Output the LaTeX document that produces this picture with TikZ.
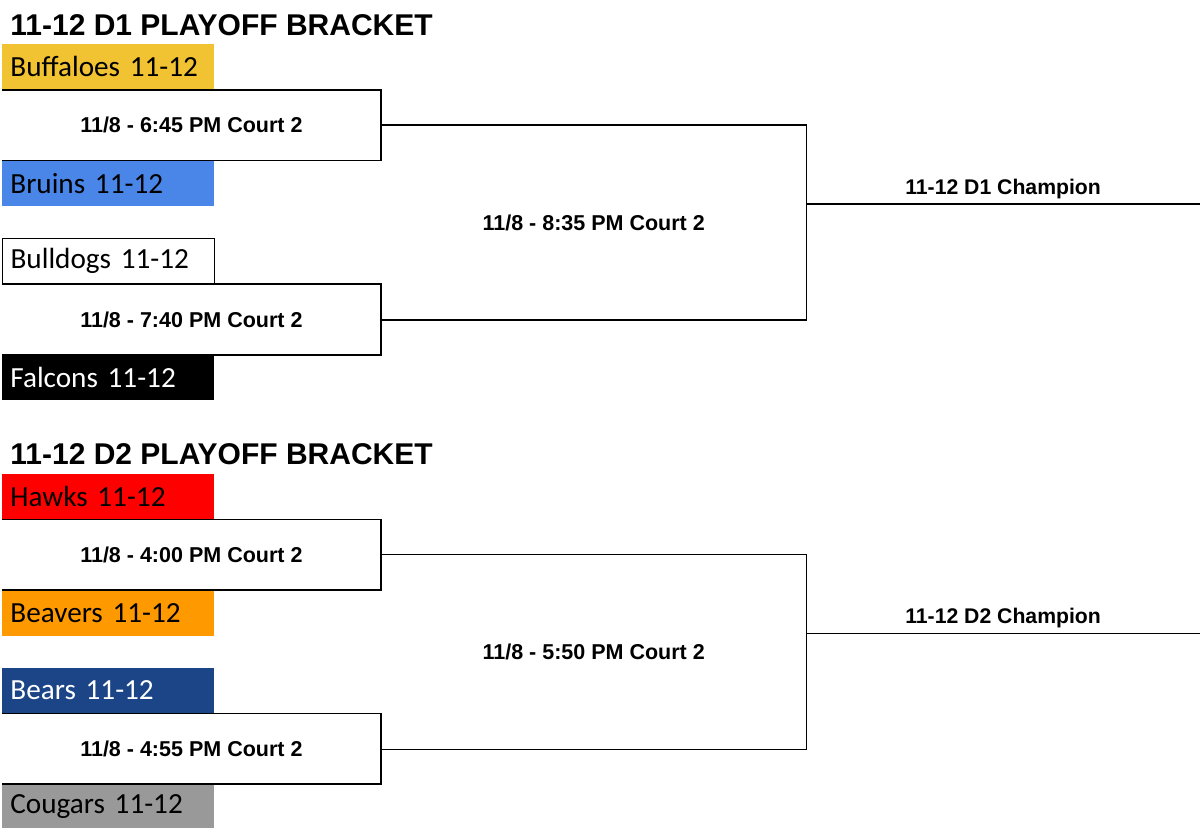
\documentclass[tikz,border=0pt]{standalone}
\usepackage{fontspec}
\setmainfont{Liberation Sans}
\newfontfamily\teamfont{Carlito}
\usetikzlibrary{positioning}

\definecolor{buffgold}{HTML}{F1C232}
\definecolor{bruinblue}{HTML}{4A86E8}
\definecolor{hawkred}{HTML}{FF0000}
\definecolor{beaverorange}{HTML}{FF9900}
\definecolor{bearnavy}{HTML}{1C4587}
\definecolor{cougargrey}{HTML}{999999}

\begin{document}
\begin{tikzpicture}[
    x=0.5pt, y=-0.5pt,
    heading/.style={anchor=west, inner sep=0pt, font=\bfseries\fontsize{15}{17}\selectfont},
    team/.style={anchor=north west, inner xsep=4pt, inner ysep=0pt, text width=98pt, align=left,
                 minimum height=22.5pt, font=\teamfont\fontsize{14.6}{16}\selectfont},
    match/.style={anchor=north west, inner sep=0pt, minimum width=189pt, minimum height=35pt,
                  font=\bfseries\fontsize{10.75}{12}\selectfont},
    semi/.style={anchor=north west, inner sep=0pt, minimum width=212.5pt, minimum height=97pt,
                 font=\bfseries\fontsize{10.75}{12}\selectfont},
    champ/.style={above, inner sep=2.5pt, font=\bfseries\fontsize{10.6}{12}\selectfont},
    bracket/.style={line width=0.75pt, line join=miter}
]
\useasboundingbox (0,0) rectangle (1200,827);

% D1 bracket
\node[heading] (title1) at (10,25) {11-12 D1 PLAYOFF BRACKET};
\node[team, fill=buffgold] (buffaloes) at (2,44) {Buffaloes 11-12};
\node[match] (m1) at (buffaloes.south west) {11/8 - 6:45 PM Court 2};
\node[team, fill=bruinblue] (bruins) at (m1.south west) {Bruins 11-12};
\node[team, draw=black, line width=0.6pt] (bulldogs) at (2,238) {Bulldogs 11-12};
\node[match] (m2) at (bulldogs.south west) {11/8 - 7:40 PM Court 2};
\node[team, fill=black, text=white] (falcons) at (m2.south west) {Falcons 11-12};
\node[semi] (s1) at (m1.east) {11/8 - 8:35 PM Court 2};

\draw[bracket] (m1.north west) -- (m1.north east) -- (m1.south east) -- (m1.south west);
\draw[bracket] (m2.north west) -- (m2.north east) -- (m2.south east) -- (m2.south west);
\draw[bracket] (s1.north west) -- (s1.north east) -- (s1.south east) -- (s1.south west);
\draw[bracket] ([yshift=-39.5pt]s1.north east) -- node[champ] (champ1) {11-12 D1 Champion} ++(393,0) coordinate (end1);

% D2 bracket
\begin{scope}[yshift=-214.75pt]
\node[heading] (title2) at (10,25) {11-12 D2 PLAYOFF BRACKET};
\node[team, fill=hawkred] (hawks) at (2,44) {Hawks 11-12};
\node[match] (m3) at (hawks.south west) {11/8 - 4:00 PM Court 2};
\node[team, fill=beaverorange] (beavers) at (m3.south west) {Beavers 11-12};
\node[team, fill=bearnavy, text=white] (bears) at (2,238) {Bears 11-12};
\node[match] (m4) at (bears.south west) {11/8 - 4:55 PM Court 2};
\node[team, fill=cougargrey] (cougars) at (m4.south west) {Cougars 11-12};
\node[semi] (s2) at (m3.east) {11/8 - 5:50 PM Court 2};

\draw[bracket] (m3.north west) -- (m3.north east) -- (m3.south east) -- (m3.south west);
\draw[bracket] (m4.north west) -- (m4.north east) -- (m4.south east) -- (m4.south west);
\draw[bracket] (s2.north west) -- (s2.north east) -- (s2.south east) -- (s2.south west);
\draw[bracket] ([yshift=-39.5pt]s2.north east) -- node[champ] (champ2) {11-12 D2 Champion} ++(393,0) coordinate (end2);
\end{scope}
\end{tikzpicture}
\end{document}
